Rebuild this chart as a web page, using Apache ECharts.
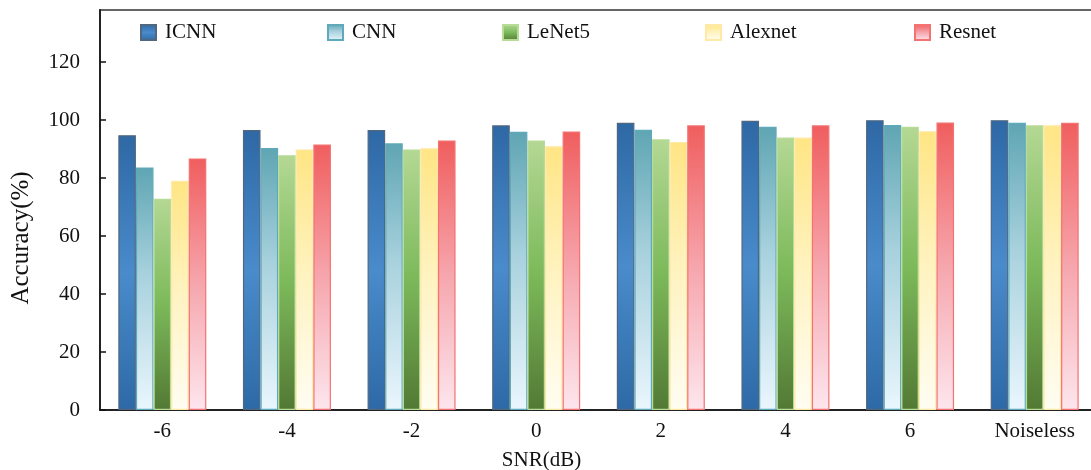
<!DOCTYPE html>
<html>
<head>
<meta charset="utf-8">
<script src="https://cdn.jsdelivr.net/npm/echarts@6/dist/echarts.min.js"></script>
<style>
  html, body { margin: 0; padding: 0; background: #fff; }
  #chart { width: 1091px; height: 470px; }
</style>
</head>
<body>
<div id="chart"></div>
<script>
// SNR levels on the x axis
const categories = ['-6', '-4', '-2', '0', '2', '4', '6', 'Noiseless'];

// Classification accuracy (%) per model
const icnn    = [94.8, 96.6, 96.6, 98.2, 99.1, 99.8, 100.0, 100.0];
const cnn     = [83.7, 90.4, 92.0, 96.0, 96.7, 97.7, 98.3, 99.1];
const lenet5  = [72.9, 87.9, 89.9, 93.0, 93.4, 94.0, 97.7, 98.2];
const alexnet = [79.1, 89.9, 90.3, 91.0, 92.5, 94.0, 96.2, 98.2];
const resnet  = [86.8, 91.6, 93.0, 96.1, 98.2, 98.2, 99.2, 99.1];

const seriesNames = ['ICNN', 'CNN', 'LeNet5', 'Alexnet', 'Resnet'];
const yTicks = [0, 20, 40, 60, 80, 100, 120];

const FONT = '"Liberation Serif", "Times New Roman", serif';
const FS = 21;

function grad(stops) {
  return new echarts.graphic.LinearGradient(0, 0, 0, 1,
    stops.map(s => ({ offset: s[0], color: s[1] })));
}

const styles = {
  ICNN:    { color: grad([[0, '#2e68a5'], [0.5, '#4a8bcb'], [1, '#2d69a6']]), border: '#51677f' },
  CNN:     { color: grad([[0, '#5fa5b3'], [0.45, '#a9d2de'], [1, '#eaf6fd']]), border: '#5eaabc' },
  LeNet5:  { color: grad([[0, '#b4d894'], [0.5, '#7cb95a'], [1, '#527934']]), border: '#b7dc98' },
  Alexnet: { color: grad([[0, '#ffe584'], [0.5, '#fff3c2'], [1, '#fffdf2']]), border: '#ffe9a6' },
  Resnet:  { color: grad([[0, '#f05e5e'], [0.5, '#f6a6ad'], [1, '#fde6ee']]), border: '#f47272' }
};

const dataMap = { ICNN: icnn, CNN: cnn, LeNet5: lenet5, Alexnet: alexnet, Resnet: resnet };
const legendLeft = [135, 322, 497, 700, 909];

const chart = echarts.init(document.getElementById('chart'), null, { renderer: 'canvas' });

chart.setOption({
  animation: false,
  backgroundColor: '#fff',
  textStyle: { fontFamily: FONT },
  legend: seriesNames.map((n, i) => ({
    data: [n],
    left: legendLeft[i],
    top: 17,
    icon: 'rect',
    itemWidth: 15,
    itemHeight: 15,
    itemGap: 0,
    textStyle: { fontFamily: FONT, fontSize: FS, color: '#111', padding: [0, 0, 0, 4] }
  })),
  grid: {
    left: 100, top: 10, width: 997, bottom: 60,
    containLabel: false,
    outerBoundsMode: 'none',
    show: true, borderColor: '#333', borderWidth: 1.5
  },
  xAxis: {
    type: 'category',
    data: categories,
    name: 'SNR(dB)',
    nameLocation: 'middle',
    nameGap: 40,
    nameTextStyle: { fontFamily: FONT, fontSize: FS, color: '#111', padding: [0, 114, 0, 0] },
    axisLine: { lineStyle: { color: '#222', width: 2 } },
    axisTick: { show: true, inside: true, alignWithLabel: true, length: 6, lineStyle: { color: '#111', width: 1.5 } },
    axisLabel: { fontFamily: FONT, fontSize: FS, color: '#111', margin: 11 }
  },
  yAxis: {
    type: 'value',
    min: 0, max: 138, interval: 20,
    name: 'Accuracy(%)',
    nameLocation: 'middle',
    nameGap: 66,
    nameRotate: 90,
    nameTextStyle: { fontFamily: FONT, fontSize: 25, color: '#111', padding: [0, 56, 0, 0] },
    axisLine: { show: true, lineStyle: { color: '#222', width: 2 } },
    axisTick: { show: true, inside: true, length: 6, lineStyle: { color: '#111', width: 1.5 } },
    axisLabel: {
      fontFamily: FONT, fontSize: FS, color: '#111', margin: 20,
      showMaxLabel: false,
      formatter: v => (yTicks.indexOf(v) >= 0 ? String(v) : '')
    },
    splitLine: { show: false }
  },
  series: seriesNames.map(n => ({
    name: n,
    type: 'bar',
    data: dataMap[n],
    barWidth: 17.6,
    barGap: '0%',
    itemStyle: {
      color: styles[n].color,
      borderColor: styles[n].border,
      borderWidth: 1.2
    }
  }))
});
</script>
</body>
</html>
